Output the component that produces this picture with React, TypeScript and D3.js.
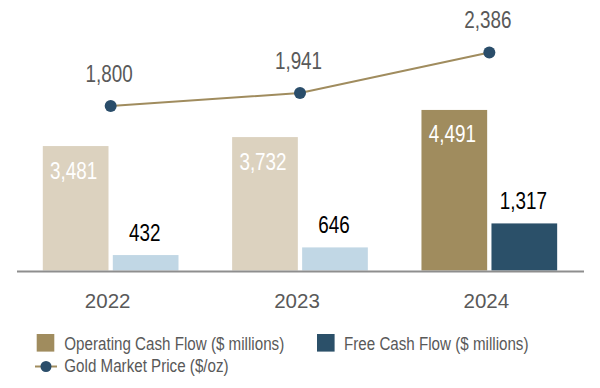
import React from "react";
import * as d3 from "d3";

const years = ["2022", "2023", "2024"];
const operatingCashFlow = [3481, 3732, 4491];
const freeCashFlow = [432, 646, 1317];
const goldPrice = [1800, 1941, 2386];
const ocfLabels = ["3,481", "3,732", "4,491"];
const fcfLabels = ["432", "646", "1,317"];
const goldLabels = ["1,800", "1,941", "2,386"];
const legendLabels = [
  "Operating Cash Flow ($ millions)",
  "Free Cash Flow ($ millions)",
  "Gold Market Price ($/oz)",
];

const W = 600;
const H = 388;
const baseY = 270.5;
const FONT = "'Liberation Sans', Arial, sans-serif";
const NARROW_SCALE = 0.82;

const ocfLight = "#dcd2bf";
const ocfDark = "#a08c5e";
const fcfLight = "#c1d7e5";
const fcfDark = "#2b5069";
const dotColor = "#2a4d6a";
const lineColor = "#a08c5e";
const grayText = "#595959";

function NText(props: {
  x: number;
  y: number;
  size: number;
  fill: string;
  anchor?: "start" | "middle" | "end";
  children: React.ReactNode;
}) {
  return (
    <g transform={`translate(${props.x},${props.y}) scale(${NARROW_SCALE},1)`}>
      <text
        x={0}
        y={0}
        textAnchor={props.anchor || "start"}
        fontFamily={FONT}
        fontSize={props.size}
        fill={props.fill}
      >
        {props.children}
      </text>
    </g>
  );
}

export default function App() {
  const x0 = d3.scaleBand<string>().domain(years).range([16, 584]).padding(0);
  const x1 = d3
    .scaleBand<string>()
    .domain(["ocf", "fcf"])
    .range([26.8, 162.5])
    .paddingInner(0.0614)
    .paddingOuter(0);
  const yBar = d3.scaleLinear().domain([0, 5000]).range([baseY, baseY - 5000 * 0.03575]);
  const yLine = d3.scaleLinear().domain([0, 2000]).range([baseY, baseY - 2000 * 0.0914]);

  const bw = x1.bandwidth();
  const center = (y: string) => (x0(y) as number) + x0.bandwidth() / 2;

  const linePts: [number, number][] = years.map((y, i) => [center(y), yLine(goldPrice[i])]);
  const linePath = d3.line()(linePts) || "";

  return (
    <svg width={W} height={H} style={{ position: "absolute", left: 0, top: 0, background: "#fff" }}>
      {years.map((y, i) => {
        const gx = x0(y) as number;
        const ox = gx + (x1("ocf") as number);
        const fx = gx + (x1("fcf") as number);
        const last = i === years.length - 1;
        return (
          <g key={y}>
            <rect
              x={ox}
              y={yBar(operatingCashFlow[i])}
              width={bw}
              height={baseY - yBar(operatingCashFlow[i])}
              fill={last ? ocfDark : ocfLight}
            />
            <rect
              x={fx}
              y={yBar(freeCashFlow[i])}
              width={bw}
              height={baseY - yBar(freeCashFlow[i])}
              fill={last ? fcfDark : fcfLight}
            />
            <NText
              x={ox + bw / 2 - 2}
              y={yBar(operatingCashFlow[i]) + 32.5}
              anchor="middle"
              size={23}
              fill="#ffffff"
            >
              {ocfLabels[i]}
            </NText>
            <NText
              x={fx + bw / 2 - 1}
              y={yBar(freeCashFlow[i]) - 14.5}
              anchor="middle"
              size={23}
              fill="#000000"
            >
              {fcfLabels[i]}
            </NText>
            <text
              x={center(y) - 3}
              y={307.7}
              textAnchor="middle"
              fontFamily={FONT}
              fontSize={20.5}
              fill={grayText}
            >
              {y}
            </text>
          </g>
        );
      })}
      <line x1={17} x2={584} y1={baseY + 1} y2={baseY + 1} stroke="#8e8e8e" strokeWidth={2} />
      <path d={linePath} fill="none" stroke={lineColor} strokeWidth={2} />
      {linePts.map(([px, py], i) => (
        <g key={"g" + i}>
          <circle cx={px} cy={py} r={6} fill={dotColor} />
          <NText x={px - 1.5} y={py - 24} anchor="middle" size={23} fill={grayText}>
            {goldLabels[i]}
          </NText>
        </g>
      ))}
      {/* Legend */}
      <rect x={36.7} y={334} width={17.6} height={17.6} fill={ocfDark} />
      <NText x={64.3} y={350} size={18.5} fill={grayText}>
        {legendLabels[0]}
      </NText>
      <rect x={317} y={334} width={17.6} height={17.6} fill={fcfDark} />
      <NText x={344} y={350} size={18.5} fill={grayText}>
        {legendLabels[1]}
      </NText>
      <line x1={35} x2={57} y1={366.5} y2={366.5} stroke={lineColor} strokeWidth={2} />
      <circle cx={46} cy={366.5} r={5.5} fill={dotColor} />
      <NText x={64.3} y={372} size={18.5} fill={grayText}>
        {legendLabels[2]}
      </NText>
    </svg>
  );
}
